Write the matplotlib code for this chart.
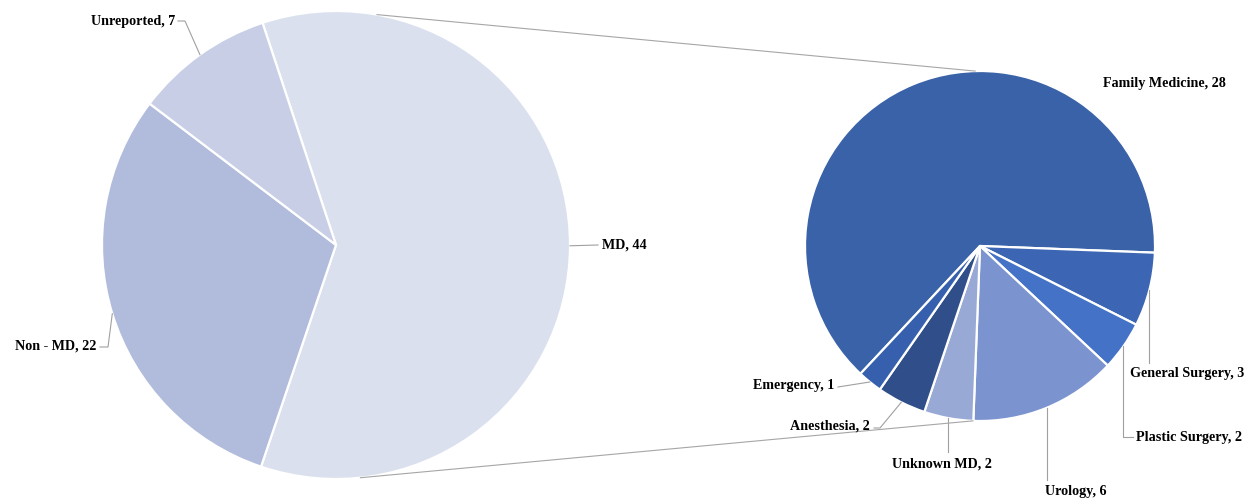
import numpy as np
import matplotlib.pyplot as plt

# Data
md_labels = ['MD', 'Non - MD', 'Unreported']
md_counts = [44, 22, 7]
md_colors = ['#DAE0EE', '#B1BCDC', '#C8CEE6']

spec_labels = ['Family Medicine', 'General Surgery', 'Plastic Surgery', 'Urology',
               'Unknown MD', 'Anesthesia', 'Emergency']
spec_counts = [28, 3, 2, 6, 2, 2, 1]
spec_colors = ['#3A62A8', '#3C66B3', '#4472C6', '#7B93CE', '#98A9D6', '#2F4E8A', '#3660AD']

W, H = 1249, 504


def Y(y):
    # pixel row -> data y (y axis points up)
    return H - y


fig = plt.figure(figsize=(W / 100, H / 100), dpi=100)
ax = fig.add_axes([0, 0, 1, 1])

left_c, left_r = (336, Y(245)), 234
right_c, right_r = (980, Y(246)), 175
wp = dict(edgecolor='white', linewidth=1.6)

lw, _ = ax.pie(md_counts, colors=md_colors, startangle=108.3, counterclock=False,
               center=left_c, radius=left_r, wedgeprops=wp)
rw, _ = ax.pie(spec_counts, colors=spec_colors, startangle=226.9, counterclock=False,
               center=right_c, radius=right_r, wedgeprops=wp)

ax.set_xlim(0, W)
ax.set_ylim(0, H)
ax.set_aspect('equal')
ax.axis('off')

font = dict(family='Liberation Serif', fontweight='bold', fontsize=10.2, color='black')
lead = dict(color='#A0A0A0', lw=0.8)


def edge_point(w, c, r):
    a = np.deg2rad((w.theta1 + w.theta2) / 2)
    return c[0] + r * np.cos(a), c[1] + r * np.sin(a)


def pt(ang, c, r):
    a = np.deg2rad(ang)
    return c[0] + r * np.cos(a), c[1] + r * np.sin(a)


# label layout: (text x, text pixel y, ha, path points after the edge point)
left_layout = [
    (602, 245, 'left', [(598, 245)]),
    (96, 346, 'right', [(108, 347), (100, 347)]),
    (175, 21, 'right', [(185, 21), (178, 21)]),
]
right_layout = [
    (1103, 83, 'left', None),
    (1130, 374, 'left', [(None, 363)]),
    (1136, 437, 'left', [(None, 437), (1133, 437)]),
    (1076, 492, 'center', [(None, 480)]),
    (942, 464, 'center', [(None, 452)]),
    (870, 426, 'right', [(880, 428), (874, 428)]),
    (834, 386, 'right', [(838, 387)]),
]

for wedges, c, r, labels, counts, layout in [
        (lw, left_c, left_r, md_labels, md_counts, left_layout),
        (rw, right_c, right_r, spec_labels, spec_counts, right_layout)]:
    for w, lab, n, (tx, ty, ha, path) in zip(wedges, labels, counts, layout):
        if path:
            ex, ey = edge_point(w, c, r)
            xs, ys = [ex], [ey]
            for px, py in path:
                xs.append(ex if px is None else px)
                ys.append(Y(py))
            ax.plot(xs, ys, **lead)
        ax.text(tx, Y(ty), f'{lab}, {n}', ha=ha, va='center', **font)

# connector lines between the two pies
for a_left, a_right in [(79.9, 91.6), (-84.0, -92.3)]:
    x0, y0 = pt(a_left, left_c, left_r)
    x1, y1 = pt(a_right, right_c, right_r)
    ax.plot([x0, x1], [y0, y1], color='#A6A6A6', lw=0.8)

fig.savefig('out.png', dpi=100, facecolor='white')
